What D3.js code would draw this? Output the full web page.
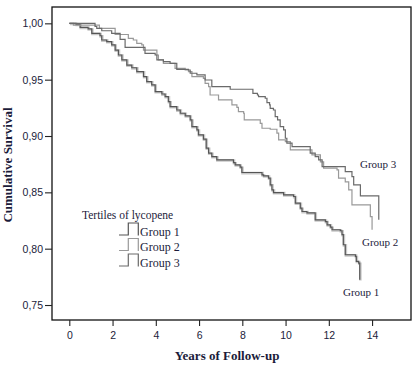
<!DOCTYPE html>
<html><head><meta charset="utf-8">
<script src="https://cdn.jsdelivr.net/npm/d3@7"></script>
<style>body{margin:0;background:#fff}</style>
</head><body><svg id="c" width="415" height="368"></svg>
<script>
const xTicks = [0, 2, 4, 6, 8, 10, 12, 14];
const yTicks = [0.75, 0.80, 0.85, 0.90, 0.95, 1.00];
const groupNames = ["Group 1", "Group 2", "Group 3"];
const groupColors = ["#555555", "#999999", "#6a6a6a"];

const group1Time = [0,0.31,0.50,0.87,1.04,1.42,1.50,1.73,1.96,2.12,2.27,2.43,2.66,2.89,3.12,3.43,3.58,3.81,3.97,4.28,4.43,4.58,4.66,4.97,5.13,5.36,5.59,5.67,5.90,5.97,6.20,6.33,6.44,6.59,6.82,7.59,7.67,7.90,7.98,8.91,8.98,9.21,9.29,9.37,9.44,9.91,10.37,10.45,10.68,10.76,10.99,11.37,11.84,11.92,12.07,12.15,12.53,12.61,12.67,12.76,13.23,13.27,13.38,13.43,13.43];
const group1Surv = [1.000,0.999,0.9965,0.995,0.9911,0.989,0.9852,0.9837,0.9808,0.9763,0.9719,0.9675,0.9630,0.9606,0.9571,0.9527,0.9482,0.9453,0.9394,0.9373,0.9349,0.9305,0.9261,0.9231,0.9202,0.9178,0.9143,0.9083,0.9054,0.9010,0.8972,0.8892,0.8848,0.8817,0.8788,0.8764,0.8744,0.8723,0.8676,0.8655,0.8646,0.8626,0.8567,0.8522,0.8498,0.8478,0.8463,0.8404,0.8360,0.8330,0.8318,0.8256,0.8241,0.8212,0.8191,0.8168,0.8159,0.8124,0.8035,0.7946,0.7931,0.7887,0.7872,0.7813,0.7724];

const group2Time = [0,0.19,1.39,2.12,2.73,2.96,3.12,3.35,3.43,4.05,4.12,4.35,4.89,5.36,5.51,5.67,6.20,6.28,6.44,6.51,6.90,7.52,7.75,7.82,8.06,8.09,8.83,8.91,9.29,9.60,9.68,9.99,10.22,11.22,11.61,11.76,12.38,12.45,12.76,12.92,13.07,13.92,14.00];
const group2Surv = [1.000,0.9985,0.9956,0.9901,0.9867,0.9852,0.9823,0.9808,0.9763,0.9719,0.9675,0.9645,0.9601,0.9586,0.9571,0.9527,0.9512,0.9468,0.9438,0.9364,0.9320,0.9276,0.9255,0.9216,0.9202,0.9143,0.9113,0.9069,0.9060,0.9025,0.8965,0.8950,0.8877,0.8832,0.8770,0.8715,0.8699,0.8626,0.8593,0.8522,0.8389,0.8285,0.8168];

const group3Time = [0,1.19,1.27,1.50,1.96,2.35,2.58,3.50,3.97,4.05,4.35,4.66,4.97,5.51,5.59,5.90,6.28,6.59,7.44,8.49,8.70,8.75,9.06,9.14,9.26,9.29,9.44,9.52,9.63,9.75,9.91,9.99,10.06,10.30,11.14,11.37,11.53,11.69,12.76,13.07,13.15,13.46,14.31];
const group3Surv = [1.000,0.9972,0.9956,0.9934,0.9911,0.9858,0.9787,0.9734,0.9719,0.9675,0.9660,0.9644,0.9592,0.9586,0.9557,0.9542,0.9497,0.9438,0.9415,0.9379,0.9364,0.9349,0.9335,0.9296,0.9276,0.9246,0.9231,0.9172,0.9143,0.9083,0.9054,0.8980,0.8936,0.8906,0.8848,0.8817,0.8788,0.8729,0.8684,0.8640,0.8567,0.8469,0.8256];

const series = [
  {name: groupNames[0], t: group1Time, s: group1Surv, color: groupColors[0]},
  {name: groupNames[1], t: group2Time, s: group2Surv, color: groupColors[1]},
  {name: groupNames[2], t: group3Time, s: group3Surv, color: groupColors[2]}
];

const textColor = "#1b1b3a";
const svg = d3.select("#c");
const L = 52, R = 411, T = 7, B = 320;
const x = d3.scaleLinear().domain([-0.8, 15.8]).range([L, R]);
const y = d3.scaleLinear().domain([0.7367, 1.0145]).range([B, T]);

// frame
svg.append("rect").attr("x", L).attr("y", T).attr("width", R - L).attr("height", B - T)
  .attr("fill", "none").attr("stroke", "#111").attr("stroke-width", 1.3);

const yAxis = svg.append("g").attr("transform", `translate(${L},0)`)
  .call(d3.axisLeft(y).tickValues(yTicks).tickSize(7).tickPadding(2)
    .tickFormat(d => d.toFixed(2).replace(".", ",")));
const xAxis = svg.append("g").attr("transform", `translate(0,${B})`)
  .call(d3.axisBottom(x).tickValues(xTicks).tickSize(6).tickPadding(6));
[yAxis, xAxis].forEach(g => {
  g.select(".domain").remove();
  g.selectAll("line").attr("stroke", "#222").attr("stroke-width", 1.1);
  g.selectAll("text").attr("fill", textColor)
    .style("font-family", "'Liberation Sans', Arial, sans-serif").style("font-size", "10.5px");
});

const line = d3.line().x(d => x(d[0])).y(d => y(d[1])).curve(d3.curveStepAfter);

series.forEach((sr, i) => {
  const pts = sr.t.map((t, k) => [t, sr.s[k]]);
  if (i === 0) {
    svg.append("path").attr("d", line(pts)).attr("fill", "none")
      .attr("stroke", "#c8c8c8").attr("stroke-width", 2.6).attr("transform", "translate(0.6,0.6)");
  }
  svg.append("path").attr("d", line(pts)).attr("fill", "none")
    .attr("stroke", sr.color).attr("stroke-width", 1.2);
});

// axis titles
svg.append("text").attr("x", 227).attr("y", 360).attr("text-anchor", "middle")
  .attr("fill", textColor).style("font-family", "'Liberation Serif', 'Times New Roman', serif")
  .style("font-weight", "bold").style("font-size", "13px").text("Years of Follow-up");
svg.append("text").attr("transform", "translate(12,165) rotate(-90)").attr("text-anchor", "middle")
  .attr("fill", textColor).style("font-family", "'Liberation Serif', 'Times New Roman', serif")
  .style("font-weight", "bold").style("font-size", "13px").text("Cumulative Survival");

// end labels
const endLabels = [
  {name: groupNames[0], x: 343, y: 296},
  {name: groupNames[1], x: 362, y: 246},
  {name: groupNames[2], x: 360, y: 168}
];
svg.selectAll(".endlab").data(endLabels).enter().append("text")
  .attr("x", d => d.x).attr("y", d => d.y).attr("fill", textColor)
  .style("font-family", "'Liberation Serif', 'Times New Roman', serif").style("font-size", "11px")
  .text(d => d.name);

// legend
const lg = svg.append("g");
lg.append("text").attr("x", 82).attr("y", 219).attr("fill", textColor)
  .style("font-family", "'Liberation Serif', 'Times New Roman', serif").style("font-size", "11.5px")
  .text("Tertiles of lycopene");
series.forEach((sr, i) => {
  const y0 = 235 + i * 15.5, y1 = 223 + i * 15.5;
  lg.append("path").attr("d", `M119,${y0}H128.3V${y1}H138.3V${y0 + 0.5}`)
    .attr("fill", "none").attr("stroke", sr.color).attr("stroke-width", 1.2);
  lg.append("text").attr("x", 140).attr("y", y0 + 0.5).attr("fill", textColor)
    .style("font-family", "'Liberation Serif', 'Times New Roman', serif").style("font-size", "12px")
    .text(sr.name);
});
</script></body></html>
